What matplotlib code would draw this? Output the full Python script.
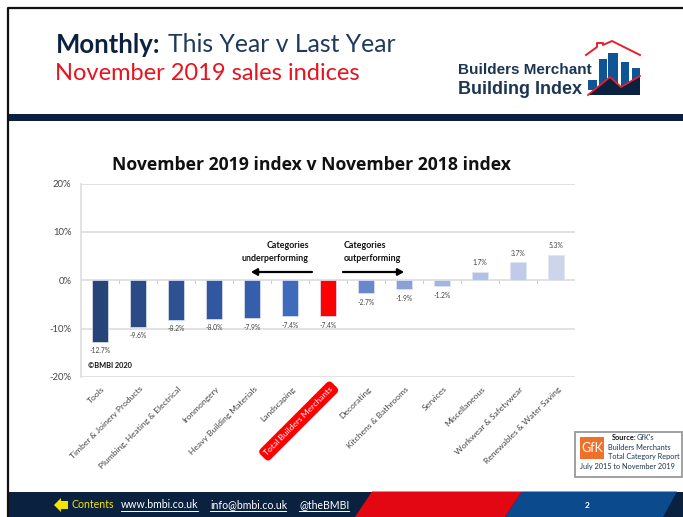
import matplotlib
matplotlib.use("Agg")
import matplotlib.pyplot as plt
from matplotlib.patches import Rectangle, Polygon

categories = ["Tools", "Timber & Joinery Products", "Plumbing, Heating & Electrical",
              "Ironmongery", "Heavy Building Materials", "Landscaping",
              "Total Builders Merchants", "Decorating", "Kitchens & Bathrooms",
              "Services", "Miscellaneous", "Workwear & Safetywear",
              "Renewables & Water Saving"]
values = [-12.7, -9.6, -8.2, -8.0, -7.9, -7.4, -7.4, -2.7, -1.9, -1.2, 1.7, 3.7, 5.3]
bar_colors = ["#264478", "#2a4b86", "#2d5193", "#30579f", "#365fab", "#3f6bbd", "#ff0000",
              "#6a87cb", "#8ba1d5", "#a3b5de", "#b3c1e2", "#bfcbe7", "#cdd5ea"]
yticks = [-20, -10, 0, 10, 20]
chart_title = "November 2019 index v November 2018 index"

W, H = 683, 517
fig = plt.figure(figsize=(W / 100, H / 100), dpi=100)
plt.rcParams['font.family'] = ['Lato', 'DejaVu Sans']
bg = fig.add_axes([0, 0, 1, 1])
bg.set_xlim(0, W); bg.set_ylim(H, 0); bg.axis("off")

NAVY = "#0a2240"
# slide frame and bands
bg.plot([7.5, 7.5, W], [H, 8, 8], color="#111111", lw=1.6, solid_capstyle="butt")
bg.add_patch(Rectangle((8, 114), W - 8, 7, fc=NAVY, ec="none"))
bg.add_patch(Rectangle((8, 491.5), W - 8, H - 491.5, fc=NAVY, ec="none"))
bg.add_patch(Polygon([(355, H), (372, 491.5), (522, 491.5), (505, H)], fc="#e30613", ec="none"))
bg.add_patch(Polygon([(505, H), (522, 491.5), (677, 491.5), (663, H)], fc="#0b4a8c", ec="none"))

# heading
bg.text(56, 45, "Monthly:", fontsize=18.5, color=NAVY, va="center", ha="left", fontweight="bold")
bg.text(168, 45, "This Year v Last Year", fontsize=17.8, color="#1f3a5f", va="center", ha="left")
bg.text(55, 74, "November 2019 sales indices", fontsize=17, color="#e8131f", va="center", ha="left")

# logo
LF = "Liberation Sans"
bg.text(458, 70, "Builders Merchant", fontsize=11, fontweight="bold", color="#1c3553", va="center", family=LF)
bg.text(458, 89, "Building Index", fontsize=13, fontweight="bold", color="#1c3553", va="center", family=LF)
for x0, x1, top in [(599, 607, 59), (608, 618, 53), (621, 629, 62), (632, 640, 68)]:
    bg.add_patch(Rectangle((x0, top), x1 - x0, 90 - top, fc="#0f5595", ec="none"))
bg.add_patch(Rectangle((588, 80), 9, 10, fc="#0f5595", ec="none"))
bg.add_patch(Polygon([(588, 95), (610, 77), (621, 87), (640, 76), (640, 95)], fc=NAVY, ec="none"))
bg.plot([588, 610, 621, 640], [95, 77, 87, 76], color="#e8202a", lw=1.3)
bg.plot([586, 597, 597, 603, 603, 612, 640], [55, 47, 43, 43, 45, 41, 55], color="#e8202a", lw=1.4)

# chart title
bg.text(311, 165, chart_title, fontsize=12.7, fontweight="bold", color="#111111", ha="center", va="center",
        family="Open Sans")

# chart
ax = fig.add_axes([81 / W, 1 - 377 / H, (575 - 81) / W, (377 - 183.5) / H])
ax.patch.set_alpha(0)
xs = list(range(len(values)))
ax.bar(xs, values, width=0.4, color=bar_colors, edgecolor="#dfe5f3", linewidth=0.5, zorder=3)
ax.set_xlim(-0.5, len(values) - 0.5)
ax.set_ylim(-20, 20)
ax.set_yticks(yticks)
ax.set_yticklabels([f"{v}%" for v in yticks], fontsize=6.8, color="#444444")
ax.tick_params(axis="y", length=0, pad=7)
ax.grid(axis="y", color="#dddddd", lw=1.2, zorder=0)
for s in ["top", "right", "bottom"]:
    ax.spines[s].set_visible(False)
ax.spines["left"].set_color("#dddddd"); ax.spines["left"].set_linewidth(1.2)
ax.set_xticks([])
for x in xs[:-1]:
    ax.plot([x + 0.5, x + 0.5], [0, -0.6], color="#cccccc", lw=0.8, zorder=1)
for x, v in zip(xs, values):
    ax.annotate(f"{v:.1f}%", (x, v), xytext=(0, -6.5 if v < 0 else 6.5), textcoords="offset points",
                ha="center", va="center", fontsize=4.9, color="#444444", zorder=4)
for x, name in zip(xs, categories):
    total = name.startswith("Total")
    ax.annotate(name, (x, -20), xytext=(1, -6), textcoords="offset points", rotation=45,
                rotation_mode="anchor", ha="right", va="top", fontsize=6.1,
                color="#ffffff" if total else "#444444", annotation_clip=False,
                bbox=dict(boxstyle="round,pad=0.45,rounding_size=0.5", fc="#ff0000", ec="none") if total else None)

# annotations
bg.text(309, 252, "Categories\nunderperforming", fontsize=6.4, fontweight="bold", color="#111111",
        ha="right", va="center", linespacing=1.5, multialignment="right")
bg.text(344, 252, "Categories\noutperforming", fontsize=6.4, fontweight="bold", color="#111111",
        ha="left", va="center", linespacing=1.5)
bg.annotate("", xy=(251, 272), xytext=(312, 272), arrowprops=dict(arrowstyle="-|>,head_width=0.2,head_length=0.35", color="black", lw=1.6, shrinkA=0, shrinkB=0))
bg.annotate("", xy=(404, 272), xytext=(343, 272), arrowprops=dict(arrowstyle="-|>,head_width=0.2,head_length=0.35", color="black", lw=1.6, shrinkA=0, shrinkB=0))
bg.text(88, 365, "©BMBI 2020", fontsize=5.3, fontweight="bold", color="#111111", va="center")

# GfK box
bg.add_patch(Rectangle((575, 432), 107, 45, fc="white", ec="#999999", lw=1.3, zorder=5))
bg.add_patch(Rectangle((580, 437), 24, 22, fc="#f0702a", ec="none", zorder=6))
bg.text(592, 448, "GfK", fontsize=9, color="white", ha="center", va="center", zorder=7)
bg.text(612, 438, "Source:", fontsize=5.3, fontweight="bold", color="#111111", va="center", zorder=7)
bg.text(637, 438, "GfK's", fontsize=5.3, color="#1c3553", va="center", zorder=7)
bg.text(608, 448, "Builders Merchants", fontsize=5.3, color="#1c3553", va="center", zorder=7)
bg.text(608, 457, "Total Category Report", fontsize=5.3, color="#1c3553", va="center", zorder=7)
bg.text(580, 467, "July 2015 to November 2019", fontsize=5.3, color="#1c3553", va="center", zorder=7)

# footer
bg.add_patch(Polygon([(54, 505), (61, 498), (61, 501), (68, 501), (68, 509), (61, 509), (61, 512)],
                     fc="#f5e400", ec="none"))
bg.text(71, 505, "Contents", fontsize=7.6, color="#f5e400", va="center")
for x0, x1, s in [(121, 198, "www.bmbi.co.uk"), (210, 286, "info@bmbi.co.uk"), (299, 349, "@theBMBI")]:
    bg.text(x0, 505, s, fontsize=7.6, color="white", va="center")
    bg.plot([x0, x1], [511, 511], color="white", lw=0.7)
bg.text(587, 506, "2", fontsize=6, fontweight="bold", color="white", ha="center", va="center")

fig.savefig("out.png", dpi=100)
